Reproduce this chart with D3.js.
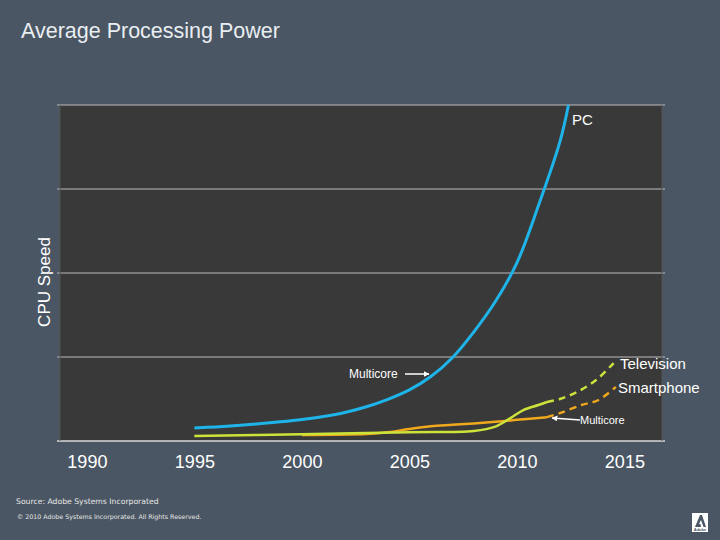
<!DOCTYPE html>
<html><head><meta charset="utf-8">
<script src="https://cdn.jsdelivr.net/npm/d3@7"></script>
<style>html,body{margin:0;padding:0;background:#4a5663;}svg{display:block;font-family:"Liberation Sans",Arial,sans-serif;}</style>
</head><body>
<script>
const xTicks = [1990, 1995, 2000, 2005, 2010, 2015];
const yGrid = [0, 25, 50, 75, 100];
const pcYears = [1995,1996,1997,1998,1999,2000,2001,2002,2003,2004,2005,2006,2007,2008,2009,2010,2011,2012,2012.4];
const pcVals  = [3.9,4.2,4.6,5.1,5.7,6.4,7.3,8.5,10.2,12.4,15.2,19.2,24.8,32.5,41.5,53,70,89,100];
const tvYears = [1995,2000,2005,2008,2009,2009.7,2010.3,2011,2011.4];
const tvVals  = [1.5,2.0,2.6,3.0,4.3,6.8,9.2,10.7,11.6];
const tvProjYears = [2011.4,2012,2012.8,2013.7,2014.5];
const tvProjVals  = [11.6,12.5,14.6,18.2,23.2];
const spYears = [2000,2003,2004,2005,2006,2007,2008,2009,2010,2011.4];
const spVals  = [1.8,2.1,2.6,3.6,4.4,4.8,5.2,5.7,6.3,7.1];
const spProjYears = [2011.4,2012,2013,2013.8,2014.6];
const spProjVals  = [7.1,8.3,10.7,12.2,16.1];

const W=720,H=540;
const svg=d3.select("body").append("svg").attr("width",W).attr("height",H);
svg.append("rect").attr("width",W).attr("height",H).attr("fill","#4a5663");

const L=60,R=662,T=105,B=441;
const x=d3.scaleLinear().domain([1988.75,2016.75]).range([L,R]);
const y=d3.scaleLinear().domain([0,100]).range([B,T]);

svg.append("rect").attr("x",L).attr("y",T).attr("width",R-L).attr("height",B-T).attr("fill","#393939");

// gridlines
svg.append("g").selectAll("line").data(yGrid).join("line")
  .attr("x1",L-3).attr("x2",R+3).attr("y1",d=>y(d)).attr("y2",d=>y(d))
  .attr("stroke",d=>d===0?"#d8d8d8":"#bdbdbd").attr("stroke-width",d=>d===0?1.5:1);
svg.append("line").attr("x1",L).attr("x2",L).attr("y1",T).attr("y2",B).attr("stroke","#555").attr("stroke-width",1);
svg.append("line").attr("x1",R).attr("x2",R).attr("y1",T).attr("y2",B).attr("stroke","#555").attr("stroke-width",1);

// x axis labels
const xAxis=d3.axisBottom(x).tickValues(xTicks).tickFormat(d3.format("d")).tickSize(0).tickPadding(14);
const gx=svg.append("g").attr("transform",`translate(0,${B})`).call(xAxis);
gx.select(".domain").remove();
gx.selectAll("text").attr("fill","#ffffff").attr("font-size",18).attr("font-family","Liberation Sans, Arial, sans-serif");

const line=d3.line().x(d=>x(d[0])).y(d=>y(d[1])).curve(d3.curveCatmullRom.alpha(0.5));
const zip=(a,b)=>a.map((v,i)=>[v,b[i]]);

svg.append("path").attr("d",line(zip(spYears,spVals))).attr("fill","none").attr("stroke","#f0a81c").attr("stroke-width",2.5);
svg.append("path").attr("d",line(zip(spProjYears,spProjVals))).attr("fill","none").attr("stroke","#f0a81c").attr("stroke-width",2.5).attr("stroke-dasharray","7,5");
svg.append("path").attr("d",line(zip(tvYears,tvVals))).attr("fill","none").attr("stroke","#cde33a").attr("stroke-width",2.5);
svg.append("path").attr("d",line(zip(tvProjYears,tvProjVals))).attr("fill","none").attr("stroke","#cde33a").attr("stroke-width",2.5).attr("stroke-dasharray","7,5");
svg.append("path").attr("d",line(zip(pcYears,pcVals))).attr("fill","none").attr("stroke","#1eb4ea").attr("stroke-width",3);

// labels
const lab=(t,xx,yy,fs)=>svg.append("text").attr("x",xx).attr("y",yy).attr("fill","#ffffff").attr("font-size",fs).text(t);
lab("PC",572,125,15);
lab("Television",620,369,15);
lab("Smartphone",618,393,15);
lab("Multicore",349,378,12);
lab("Multicore",580,424,11);

// arrows
svg.append("defs").append("marker").attr("id","ah").attr("viewBox","0 0 10 10").attr("refX",9).attr("refY",5)
  .attr("markerWidth",4).attr("markerHeight",4).attr("orient","auto")
  .append("path").attr("d","M0,0L10,5L0,10Z").attr("fill","#ffffff");
svg.append("line").attr("x1",405).attr("y1",374).attr("x2",429).attr("y2",374).attr("stroke","#fff").attr("stroke-width",1.5).attr("marker-end","url(#ah)");
svg.append("line").attr("x1",580).attr("y1",420).attr("x2",552).attr("y2",418).attr("stroke","#fff").attr("stroke-width",1.5).attr("marker-end","url(#ah)");

// y title
svg.append("text").attr("transform","translate(50,282) rotate(-90)").attr("text-anchor","middle")
  .attr("fill","#ffffff").attr("font-size",17).text("CPU Speed");

// title
svg.append("text").attr("x",21).attr("y",38).attr("fill","#e9eef2").attr("font-size",21.5).text("Average Processing Power");

// footer
svg.append("text").attr("x",16).attr("y",504).attr("fill","#e6e6e6").attr("font-size",7.7).attr("font-family","DejaVu Sans, sans-serif").text("Source: Adobe Systems Incorporated");
svg.append("text").attr("x",17).attr("y",519).attr("fill","#e6e6e6").attr("font-size",6.3).attr("font-family","DejaVu Sans, sans-serif").text("© 2010 Adobe Systems Incorporated.  All Rights Reserved.");

// logo
svg.append("rect").attr("x",692).attr("y",513).attr("width",16).attr("height",19).attr("fill","#ffffff");
svg.append("path").attr("d","M695,527 L700,515 L702,515 L706,527 L703.5,527 L701,520 L699,524 L700.5,524 L701,527 Z").attr("fill","#4a5663");
svg.append("text").attr("x",700).attr("y",531).attr("text-anchor","middle").attr("font-size",4).attr("font-weight","bold").attr("fill","#4a5663").text("Adobe");
</script>
</body></html>
